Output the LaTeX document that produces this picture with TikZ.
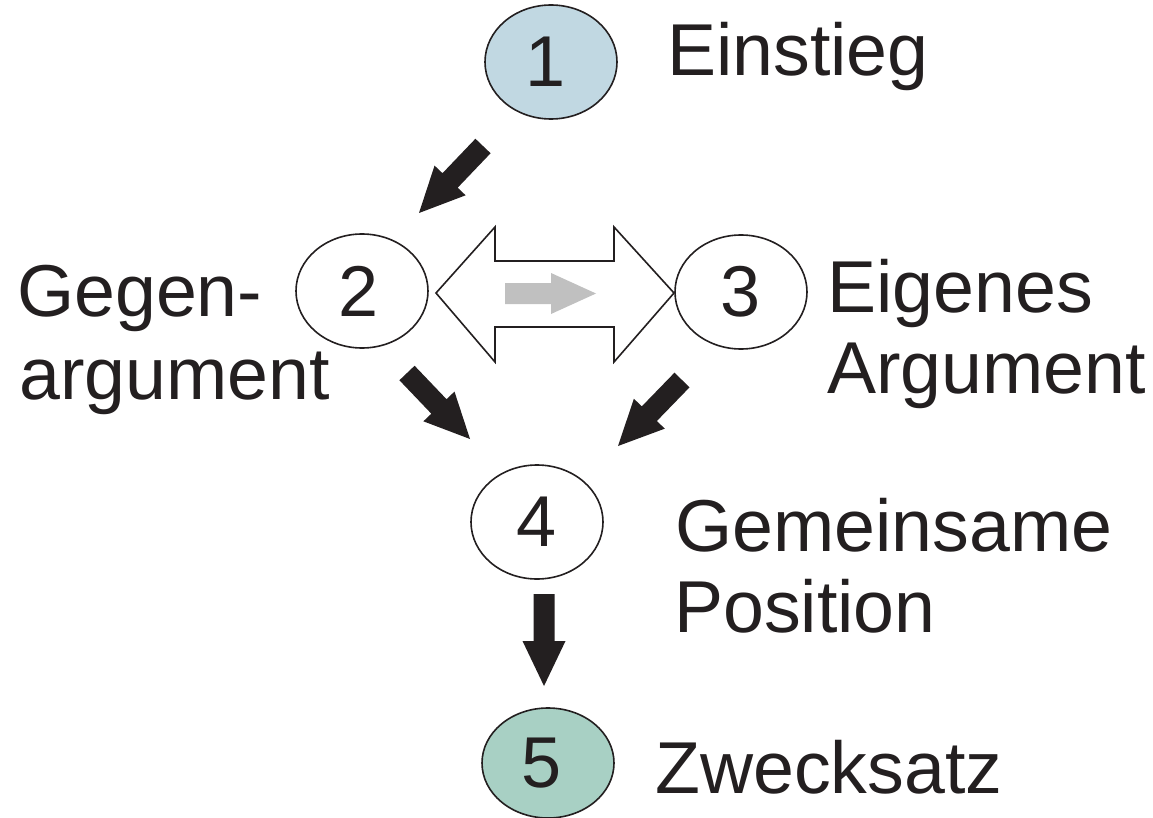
\documentclass[tikz,border=0pt]{standalone}
\usepackage{fontspec}
\setmainfont{Liberation Sans}
\usetikzlibrary{shapes.geometric,calc}

\definecolor{startfill}{RGB}{193,216,226}
\definecolor{endfill}{RGB}{168,208,196}
\definecolor{ink}{RGB}{35,31,32}
\definecolor{hintgray}{RGB}{192,192,192}

% Filled block arrow: #1 style, #2 tail, #3 tip,
% #4 half shaft width, #5 half head width, #6 head length
\newcommand\blockarrow[6]{%
  \path ($(#3)!#6!(#2)$) coordinate (#3-base);
  \fill[#1] ($(#2)!#4!90:(#3)$) -- ($(#3-base)!#4!-90:(#2)$)
    -- ($(#3-base)!#5!-90:(#2)$) -- (#3)
    -- ($(#3-base)!#5!90:(#2)$) -- ($(#3-base)!#4!90:(#2)$)
    -- ($(#2)!#4!-90:(#3)$) -- cycle;
}

\begin{document}
\begin{tikzpicture}[x=1pt,y=-1pt,
  bubble/.style={ellipse,draw=ink,line width=1.6pt,minimum width=132pt,
    minimum height=114pt,inner sep=0pt,text=ink,
    font=\fontsize{72}{80}\selectfont},
  caption/.style={anchor=base west,inner sep=0pt,text=ink,
    font=\fontsize{73.5}{80}\selectfont},
  heavy/.style={fill=ink},
  hint/.style={fill=hintgray},
  exchange/.style={draw=ink,line width=1.6pt,fill=white,line join=miter}]
\useasboundingbox (0,0) rectangle (1153,818);

% steps
\node[bubble,fill=startfill] (n1) at (551,62) {\hspace*{-10pt}1};
\node[bubble] (n2) at (362,291) {\hspace*{-6pt}2};
\node[bubble] (n3) at (741,292) {3};
\node[bubble] (n4) at (537,522) {4};
\node[bubble,fill=endfill,minimum height=110pt] (n5) at (548,763) {\hspace*{-12pt}5};

% captions
\node[caption] (c1) at (667,76) {Einstieg};
\node[caption] (c2a) at (17,316) {Gegen-};
\node[caption] (c2b) at (19,399) {argument};
\node[caption] (c3a) at (827,312) {Eigenes};
\node[caption] (c3b) at (827,393) {Argument};
\node[caption] (c4a) at (675,551) {Gemeinsame};
\node[caption] (c4b) at (674,632) {Position};
\node[caption] (c5) at (655,793) {Zwecksatz};

% exchange between 2 and 3
\coordinate (xl) at (436,293);
\coordinate (xr) at (674,293);
\draw[exchange] (xl) -- ++(59,-66) -- ++(0,34) -- ++(119,0) -- ++(0,-34)
  -- (xr) -- ++(-60,69) -- ++(0,-35) -- ++(-119,0) -- ++(0,35) -- cycle;
\coordinate (gt) at (505,293.5);
\coordinate (gh) at (596,293.5);
\blockarrow{hint}{gt}{gh}{10.5pt}{20.5pt}{45pt}

% flow arrows
\coordinate (a1t) at (483,146);
\coordinate (a1h) at (419,213);
\coordinate (a2t) at (407,373);
\coordinate (a2h) at (470,439);
\coordinate (a3t) at (682,380);
\coordinate (a3h) at (618,446);
\coordinate (a4t) at (544,594);
\coordinate (a4h) at (544,686);
\blockarrow{heavy}{a1t}{a1h}{10.5pt}{21.5pt}{45pt}
\blockarrow{heavy}{a2t}{a2h}{10.5pt}{21.5pt}{45pt}
\blockarrow{heavy}{a3t}{a3h}{10.5pt}{21.5pt}{45pt}
\blockarrow{heavy}{a4t}{a4h}{10.5pt}{21.5pt}{45pt}
\end{tikzpicture}
\end{document}
